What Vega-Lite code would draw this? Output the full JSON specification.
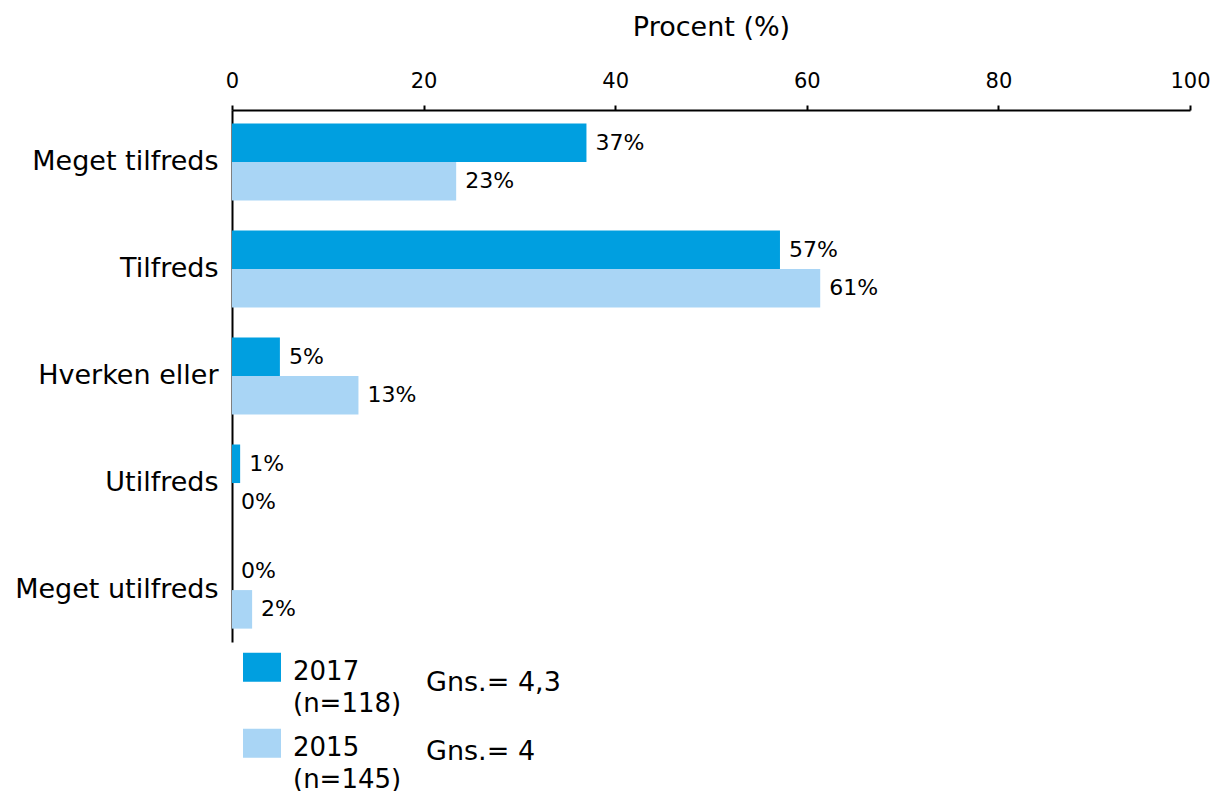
{
  "$schema": "https://vega.github.io/schema/vega-lite/v6.json",
  "width": 958,
  "height": 532,
  "autosize": {"type": "none"},
  "padding": {"left": 232, "top": 110, "right": 28, "bottom": 149},
  "background": "white",
  "data": {
    "values": [
      {"category": "Meget tilfreds", "year": "2017 (n=118)", "gns": "Gns.= 4,3", "value": 37.0},
      {"category": "Meget tilfreds", "year": "2015 (n=145)", "gns": "Gns.= 4", "value": 23.4},
      {"category": "Tilfreds", "year": "2017 (n=118)", "gns": "Gns.= 4,3", "value": 57.2},
      {"category": "Tilfreds", "year": "2015 (n=145)", "gns": "Gns.= 4", "value": 61.4},
      {"category": "Hverken eller", "year": "2017 (n=118)", "gns": "Gns.= 4,3", "value": 5.0},
      {"category": "Hverken eller", "year": "2015 (n=145)", "gns": "Gns.= 4", "value": 13.2},
      {"category": "Utilfreds", "year": "2017 (n=118)", "gns": "Gns.= 4,3", "value": 0.85},
      {"category": "Utilfreds", "year": "2015 (n=145)", "gns": "Gns.= 4", "value": 0},
      {"category": "Meget utilfreds", "year": "2017 (n=118)", "gns": "Gns.= 4,3", "value": 0},
      {"category": "Meget utilfreds", "year": "2015 (n=145)", "gns": "Gns.= 4", "value": 2.1}
    ]
  },
  "transform": [{"calculate": "format(datum.value, '.0f') + '%'", "as": "label"}],
  "encoding": {
    "y": {
      "field": "category",
      "type": "nominal",
      "sort": ["Meget tilfreds", "Tilfreds", "Hverken eller", "Utilfreds", "Meget utilfreds"],
      "scale": {"paddingInner": 0.28, "paddingOuter": 0.125},
      "axis": {
        "title": null,
        "ticks": false,
        "labelFontSize": 27,
        "labelPadding": 14,
        "labelLimit": 400,
        "domainColor": "black",
        "domainWidth": 2
      }
    },
    "yOffset": {
      "field": "year",
      "type": "nominal",
      "sort": ["2017 (n=118)", "2015 (n=145)"]
    },
    "x": {
      "field": "value",
      "type": "quantitative",
      "scale": {"domain": [0, 100]},
      "axis": {
        "orient": "top",
        "title": "Procent (%)",
        "values": [0, 20, 40, 60, 80, 100],
        "grid": false,
        "tickSize": 5,
        "tickColor": "black",
        "tickWidth": 2,
        "domainColor": "black",
        "domainWidth": 2,
        "labelFontSize": 21,
        "labelPadding": 14,
        "labelFlush": false,
        "titleFontSize": 27,
        "titleFontWeight": "normal",
        "titlePadding": 29
      }
    }
  },
  "layer": [
    {
      "mark": {"type": "bar"},
      "encoding": {
        "color": {
          "field": "year",
          "type": "nominal",
          "scale": {"domain": ["2017 (n=118)", "2015 (n=145)"], "range": ["#009FE0", "#A9D5F5"]},
          "legend": {
            "orient": "none",
            "legendX": 11,
            "legendY": 543,
            "title": null,
            "padding": 0,
            "labelExpr": "split(datum.value, ' ')",
            "labelFontSize": 26,
            "labelOffset": 12,
            "labelLimit": 300,
            "symbolType": "M-1,-1.01H1V0.516H-1Z",
            "symbolSize": 1444,
            "symbolStrokeWidth": 0,
            "rowPadding": 11
          }
        },
        "opacity": {
          "field": "gns",
          "type": "ordinal",
          "scale": {"type": "ordinal", "domain": ["Gns.= 4,3", "Gns.= 4"], "range": [1, 1]},
          "legend": {
            "orient": "none",
            "legendX": 167,
            "legendY": 559,
            "title": null,
            "padding": 0,
            "labelFontSize": 27,
            "labelOffset": 0,
            "labelLimit": 300,
            "symbolSize": 0,
            "symbolOpacity": 0,
            "symbolStrokeWidth": 0,
            "rowPadding": 41
          }
        }
      }
    },
    {
      "mark": {"type": "text", "align": "left", "baseline": "middle", "dx": 9, "fontSize": 22, "color": "black"},
      "encoding": {"text": {"field": "label", "type": "nominal"}}
    }
  ],
  "config": {
    "font": "DejaVu Sans",
    "view": {"stroke": null},
    "axis": {"labelFont": "DejaVu Sans", "titleFont": "DejaVu Sans", "labelColor": "black", "titleColor": "black"},
    "legend": {"labelFont": "DejaVu Sans", "labelColor": "black"},
    "text": {"font": "DejaVu Sans"},
    "style": {"guide-label": {"lineHeight": 32}}
  }
}
